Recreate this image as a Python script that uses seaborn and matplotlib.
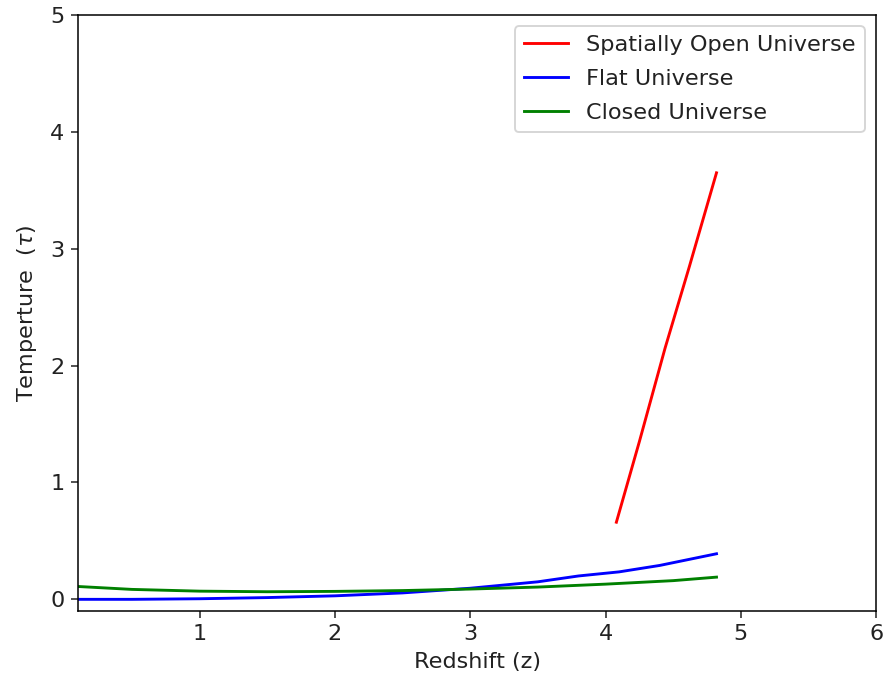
import matplotlib
matplotlib.use("Agg")
import matplotlib.pyplot as plt
import seaborn as sns
import pandas as pd

# Temperature vs redshift for three cosmological models
z_open = [4.08, 4.25, 4.44, 4.62, 4.82]
t_open = [0.66, 1.35, 2.15, 2.85, 3.65]

z_flat = [0.1, 0.5, 1.0, 1.5, 2.0, 2.5, 3.0, 3.5, 3.8, 4.1, 4.4, 4.82]
t_flat = [0.00, 0.00, 0.005, 0.015, 0.03, 0.055, 0.095, 0.15, 0.20, 0.235, 0.29, 0.39]

z_closed = [0.1, 0.5, 1.0, 1.5, 2.0, 2.5, 3.0, 3.5, 4.0, 4.5, 4.82]
t_closed = [0.11, 0.085, 0.07, 0.065, 0.068, 0.075, 0.088, 0.105, 0.13, 0.16, 0.19]

labels = ["Spatially Open Universe", "Flat Universe", "Closed Universe"]
colors = ["red", "blue", "green"]

plt.rcParams["font.size"] = 11.7

fig = plt.figure(figsize=(885 / 138, 685 / 138), dpi=138)
ax = fig.add_axes([0.088, 0.108, 0.902, 0.870])

for zs, ts, lab, col in zip([z_open, z_flat, z_closed],
                            [t_open, t_flat, t_closed], labels, colors):
    df = pd.DataFrame({"z": zs, "t": ts})
    sns.lineplot(data=df, x="z", y="t", color=col, label=lab, ax=ax,
                 linewidth=1.5, sort=False)

ax.set_xlim(0.1, 6)
ax.set_ylim(-0.1, 5)
ax.set_xticks([1, 2, 3, 4, 5, 6])
ax.set_yticks([0, 1, 2, 3, 4, 5])
ax.tick_params(colors="#222222", labelcolor="#222222")
ax.set_xlabel("Redshift (z)", color="#222222")
ax.set_ylabel(r"Temperture  ($\tau$)", color="#222222", labelpad=6)
ax.legend(loc="upper right", labelcolor="#222222", labelspacing=0.62)

fig.savefig("out.png", dpi=138)
